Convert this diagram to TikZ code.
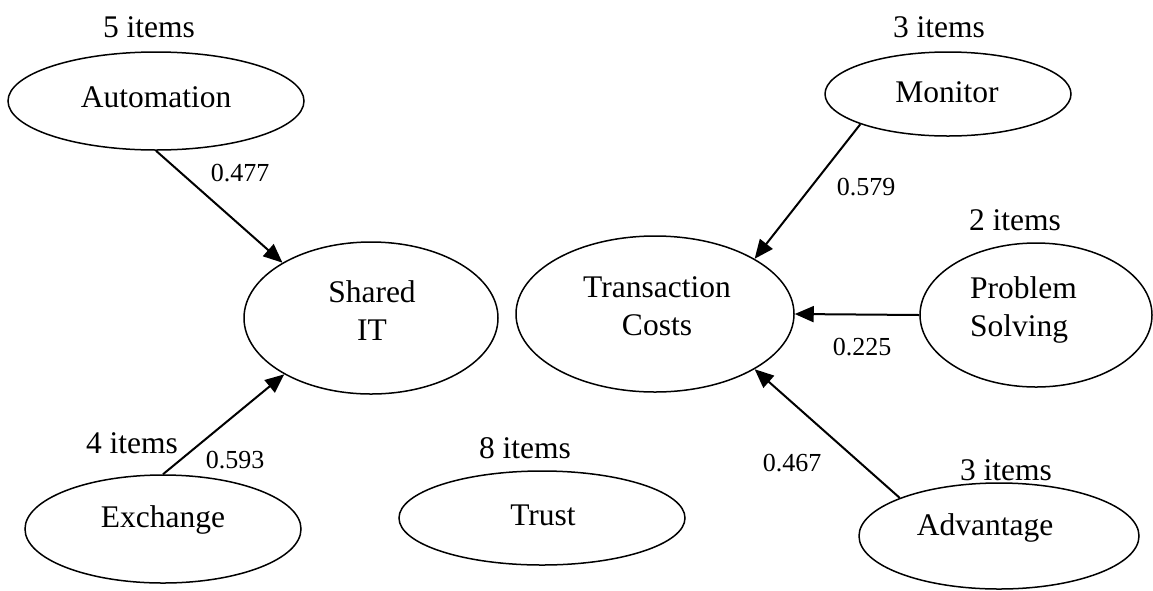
\documentclass[tikz,border=0pt]{standalone}
\usepackage{fontspec}
\setmainfont{Liberation Serif}
\usetikzlibrary{shapes.geometric,arrows.meta}

\tikzset{
  construct/.style={draw, ellipse, line width=1.5pt, inner sep=0pt},
  name text/.style={font=\fontsize{31.5}{38}\selectfont, inner sep=0pt, align=center},
  count text/.style={font=\fontsize{31.5}{38}\selectfont, inner sep=0pt},
  weight/.style={font=\fontsize{26}{31}\selectfont, inner sep=0pt},
  path/.style={line width=2pt, -{Triangle[length=19pt,width=16pt]}}
}

\begin{document}
\begin{tikzpicture}[x=1pt,y=-1pt]
\useasboundingbox (0,0) rectangle (1153,590);

% latent constructs
\node[construct, minimum width=296pt, minimum height=98pt]  (auto)   at (156,101) {};
\node[construct, minimum width=254pt, minimum height=152pt] (shared) at (371,318) {};
\node[construct, minimum width=276pt, minimum height=108pt] (exch)   at (163,529) {};
\node[construct, minimum width=286pt, minimum height=94pt]  (trust)  at (542,518) {};
\node[construct, minimum width=278pt, minimum height=156pt] (tc)     at (655,314) {};
\node[construct, minimum width=246pt, minimum height=84pt]  (mon)    at (948,94)  {};
\node[construct, minimum width=232pt, minimum height=144pt] (ps)     at (1036,315) {};
\node[construct, minimum width=280pt, minimum height=106pt] (adv)    at (999,536) {};

% construct names
\node[name text] (auto-t)   at (156,97)  {Automation};
\node[name text] (shared-t) at (372,311) {Shared\\IT};
\node[name text] (exch-t)   at (163,520) {Exchange};
\node[name text] (trust-t)  at (543,515) {Trust};
\node[name text] (tc-t)     at (657,306) {Transaction\\Costs};
\node[name text] (mon-t)    at (947,92)  {Monitor};
\node[name text, anchor=west, align=left] (ps-t) at (970,310) {Problem\\Solving};
\node[name text] (adv-t)    at (985,528) {Advantage};

% number of items per construct
\node[count text] (auto-n)  at (149,27)  {5 items};
\node[count text] (exch-n)  at (132,443) {4 items};
\node[count text] (trust-n) at (525,448) {8 items};
\node[count text] (mon-n)   at (939,27)  {3 items};
\node[count text] (ps-n)    at (1015,220) {2 items};
\node[count text] (adv-n)   at (1006,470) {3 items};

% structural paths
\draw[path] (auto.south) -- (shared.148);
\draw[path] (exch.north) -- (shared.213);
\draw[path] (mon.199) -- (tc.29);
\draw[path] (ps.west) -- (tc.east);
\draw[path] (adv.159) -- (tc.-29);

% path coefficients
\node[weight] (w1) at (240,173) {0.477};
\node[weight] (w2) at (235,460) {0.593};
\node[weight] (w3) at (866,187) {0.579};
\node[weight] (w4) at (862,347) {0.225};
\node[weight] (w5) at (792,463) {0.467};
\end{tikzpicture}
\end{document}
